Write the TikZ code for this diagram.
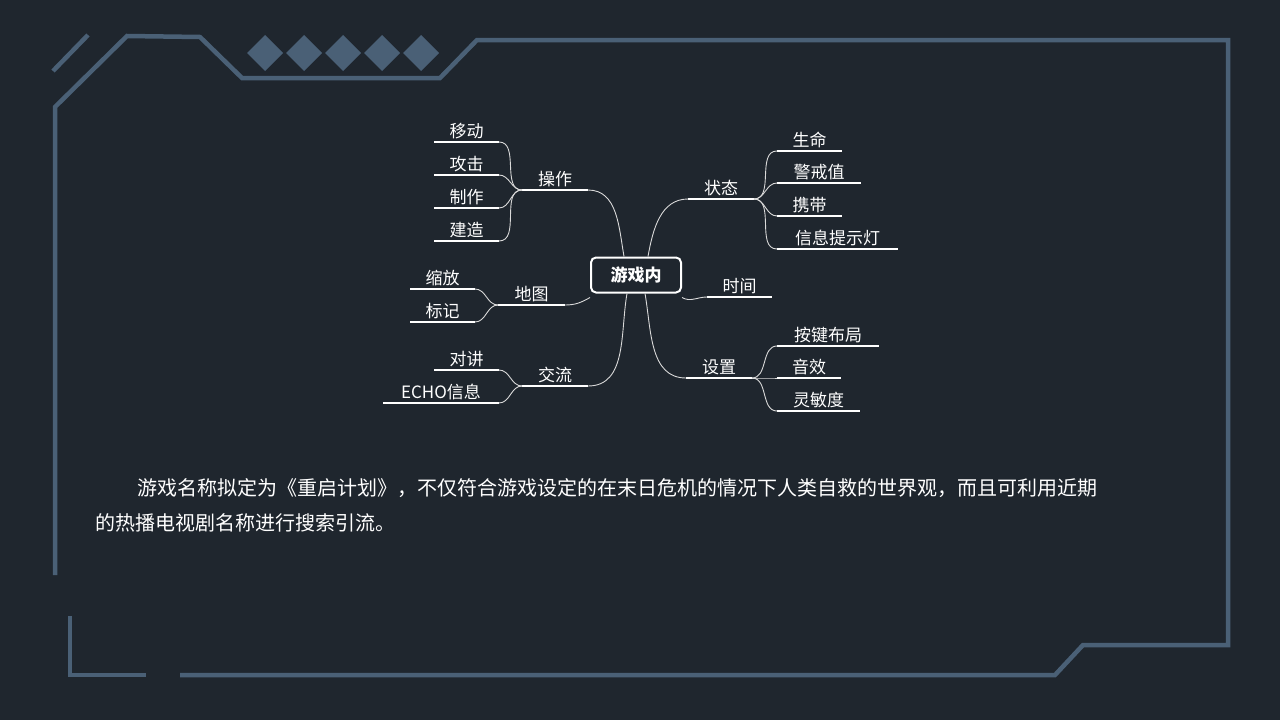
\documentclass[tikz,border=0pt]{standalone}
\usepackage{fontspec}
\setmainfont{Noto Sans CJK SC}
\begin{document}
\begin{tikzpicture}[x=1pt,y=-1pt,
  frame/.style={draw=fr,line width=4.5pt,line join=miter},
  ul/.style={draw=white,line width=2pt},
  lbl/.style={text=white,font=\fontsize{17}{17}\selectfont,inner sep=0pt,anchor=south},
  br/.style={draw=white!85!black,line width=0.9pt}]
\definecolor{bg}{HTML}{1F262E}
\definecolor{fr}{HTML}{4A6076}
\fill[bg] (0,0) rectangle (1280,720);
\useasboundingbox (0,0) rectangle (1280,720);
% frame
\draw[frame] (55,575) -- (55,107) -- (127,36) -- (200,37) -- (242,78) -- (440,78) -- (477,40) -- (1228,40) -- (1228,645) -- (1083,645) -- (1055,675) -- (180,675);
\draw[frame] (146,675) -- (70,675) -- (70,616);
\draw[frame] (88,35) -- (53,71);
\foreach \cx in {265,304,343,382,421}
  \fill[fr] (\cx-18,53) -- (\cx,35) -- (\cx+18,53) -- (\cx,71) -- cycle;
% center
\node[draw=white,line width=2pt,rounded corners=5pt,minimum width=90pt,minimum height=35pt,text=white,font=\bfseries\fontsize{17}{17}\selectfont] (ctr) at (636,275) {游戏内};
% leaf macro
\newcommand\leaf[5]{%
  \draw[ul] (#2,#4) coordinate (#1L) -- (#3,#4) coordinate (#1R);
  \node[lbl] (#1) at ({(#2+#3)/2},#4-3) {#5};}
% branches
\leaf{cz}{522}{588}{190}{操作}
\leaf{dt}{498}{565}{305}{地图}
\leaf{jl}{522}{588}{386}{交流}
\leaf{zt}{688}{754}{199}{状态}
\leaf{sj}{707}{772}{297}{时间}
\leaf{sz}{686}{752}{378}{设置}
% children
\leaf{a1}{434}{499}{142}{移动}
\leaf{a2}{434}{499}{175}{攻击}
\leaf{a3}{434}{499}{208}{制作}
\leaf{a4}{434}{499}{241}{建造}
\leaf{b1}{410}{475}{289}{缩放}
\leaf{b2}{410}{475}{322}{标记}
\leaf{c1}{434}{499}{370}{对讲}
\leaf{c2}{383}{499}{403}{ECHO信息}
\leaf{d1}{777}{842}{151}{生命}
\leaf{d2}{777}{861}{183}{警戒值}
\leaf{d3}{777}{842}{216}{携带}
\leaf{d4}{777}{898}{249}{信息提示灯}
\leaf{e1}{777}{879}{346}{按键布局}
\leaf{e2}{777}{841}{378}{音效}
\leaf{e3}{777}{860}{411}{灵敏度}
% child curves
\foreach \c in {a1,a2,a3,a4} \draw[br] (\c R) to[out=0,in=180] (czL);
\foreach \c in {b1,b2} \draw[br] (\c R) to[out=0,in=180] (dtL);
\foreach \c in {c1,c2} \draw[br] (\c R) to[out=0,in=180] (jlL);
\foreach \c in {d1,d2,d3,d4} \draw[br] (ztR) to[out=0,in=180] (\c L);
\foreach \c in {e1,e2,e3} \draw[br] (szR) to[out=0,in=180] (\c L);
% center curves
\draw[br] (czR) to[out=0,in=100] ([xshift=-12pt]ctr.north);
\draw[br] (ztL) to[out=180,in=80] ([xshift=12pt]ctr.north);
\draw[br] (dtR) to[out=0,in=210] ([yshift=-4pt]ctr.south west);
\draw[br] (jlR) to[out=0,in=-100] ([xshift=-9pt]ctr.south);
\draw[br] (szL) to[out=180,in=-80] ([xshift=9pt]ctr.south);
\draw[br] (sjL) to[out=180,in=-30] ([yshift=-4pt]ctr.south east);
% paragraph
\node[text=white,font=\fontsize{20}{35}\selectfont,anchor=west,inner sep=0pt] (p1) at (137,488) {游戏名称拟定为《重启计划》，不仅符合游戏设定的在末日危机的情况下人类自救的世界观，而且可利用近期};
\node[text=white,font=\fontsize{20}{35}\selectfont,anchor=west,inner sep=0pt] (p2) at (95,523) {的热播电视剧名称进行搜索引流。};
\end{tikzpicture}
\end{document}
